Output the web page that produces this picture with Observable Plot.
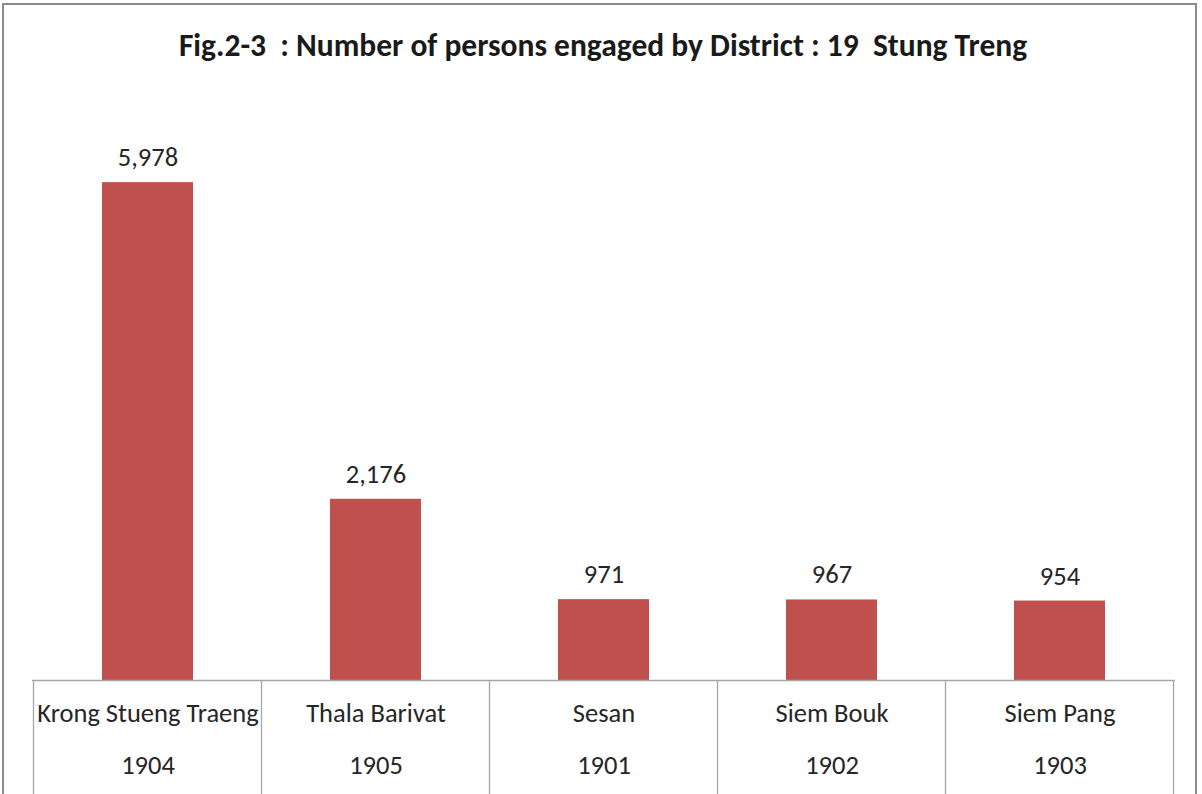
<!DOCTYPE html>
<html>
<head>
<meta charset="utf-8">
<script src="https://cdn.jsdelivr.net/npm/d3@7"></script>
<script src="https://cdn.jsdelivr.net/npm/@observablehq/plot@0.6"></script>
<style>
  html, body { margin: 0; padding: 0; background: #fff; }
  body { width: 1202px; height: 794px; overflow: hidden; position: relative; font-family: Carlito, "Liberation Sans", Arial, sans-serif; }
  #frame { position: absolute; left: 2px; top: 3px; width: 1195px; height: 820px; border: 2px solid #8c8c8c; box-sizing: border-box; }
  #title { position: absolute; left: 0; top: 25px; width: 1206px; text-align: center; font-weight: bold; font-size: 31.5px; line-height: 40px; color: #1a1a1a; white-space: pre; }
  #chart { position: absolute; left: 0; top: 90px; }
</style>
</head>
<body>
<div id="frame"></div>
<div id="title">Fig.2-3  : Number of persons engaged by District : 19  Stung Treng</div>
<div id="chart"></div>
<script>
const districts = ["Krong Stueng Traeng", "Thala Barivat", "Sesan", "Siem Bouk", "Siem Pang"];
const codes = ["1904", "1905", "1901", "1902", "1903"];
const persons = [5978, 2176, 971, 967, 954];

const data = districts.map((d, i) => ({district: d, code: codes[i], value: persons[i]}));

function separators(index, scales, values, dimensions) {
  const x = scales.x;
  const step = x.step();
  const svgNS = "http://www.w3.org/2000/svg";
  const g = document.createElementNS(svgNS, "g");
  const y0 = dimensions.height - dimensions.marginBottom;
  const edges = districts.map(d => x(d) + x.bandwidth() / 2 - step / 2);
  edges.push(x(districts[districts.length - 1]) + x.bandwidth() / 2 + step / 2);
  for (const ex of edges) {
    const l = document.createElementNS(svgNS, "line");
    l.setAttribute("x1", ex); l.setAttribute("x2", ex);
    l.setAttribute("y1", y0); l.setAttribute("y2", dimensions.height);
    l.setAttribute("stroke", "#a6a6a6"); l.setAttribute("stroke-width", 1.3);
    g.appendChild(l);
  }
  return g;
}

const chart = Plot.plot({
  width: 1202,
  height: 704,
  marginTop: 7,
  marginBottom: 114,
  marginLeft: 32,
  marginRight: 27,
  style: {fontFamily: 'Carlito, "Liberation Sans", Arial, sans-serif', fontSize: "26px", color: "#262626", background: "transparent"},
  x: {domain: districts, paddingInner: 0.6, paddingOuter: 0.3, axis: null},
  y: {domain: [0, 7000], axis: null},
  marks: [
    Plot.barY(data, {x: "district", y: "value", fill: "#C0504D"}),
    Plot.ruleY([0], {stroke: "#a6a6a6", strokeWidth: 1.3}),
    separators,
    Plot.text(data, {x: "district", y: "value", text: d => d3.format(",")(d.value), dy: -25, fontSize: 26.5, fill: "#262626"}),
    Plot.text(data, {x: "district", frameAnchor: "bottom", dy: 41, text: "district", fontSize: 26.5, fill: "#262626"}),
    Plot.text(data, {x: "district", frameAnchor: "bottom", dy: 93, text: "code", fontSize: 26.5, fill: "#262626"})
  ]
});
document.getElementById("chart").appendChild(chart);
</script>
</body>
</html>
